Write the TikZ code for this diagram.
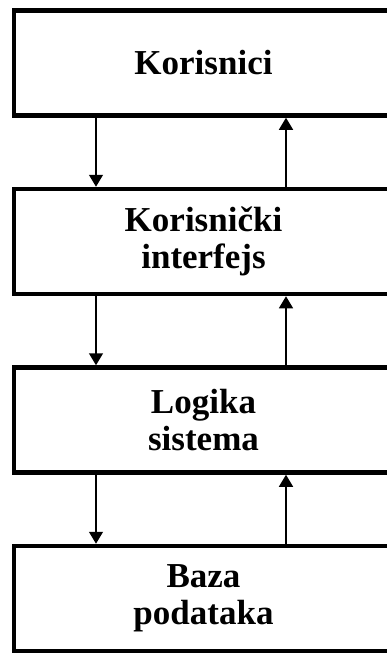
\documentclass[tikz,border=0pt]{standalone}
\usepackage{fontspec}
\setmainfont{Liberation Serif}
\usetikzlibrary{arrows.meta,positioning}

\begin{document}
\begin{tikzpicture}[
    x=1pt, y=1pt,
    node distance=69pt,
    layer/.style={draw, rectangle, minimum width=379pt, minimum height=105pt, line width=4.5pt, align=center, font=\fontsize{35}{37}\selectfont\bfseries},
    arrow/.style={-{Triangle[width=14pt,length=12pt]}, line width=1.5pt}
]
    \clip (0,0) rectangle (387,-654);
    \node[layer] (users) at (203.5,-63) {Korisnici};
    \node[layer] (ui) [below=of users] {Korisnički\\interfejs};
    \node[layer] (logic) [below=of ui] {Logika\\sistema};
    \node[layer] (db) [below=of logic] {Baza\\podataka};

    \draw[arrow] ([xshift=-107.5pt]users.south) -- ([xshift=-107.5pt]ui.north);
    \draw[arrow] ([xshift=82.5pt]ui.north) -- ([xshift=82.5pt]users.south);
    \draw[arrow] ([xshift=-107.5pt]ui.south) -- ([xshift=-107.5pt]logic.north);
    \draw[arrow] ([xshift=82.5pt]logic.north) -- ([xshift=82.5pt]ui.south);
    \draw[arrow] ([xshift=-107.5pt]logic.south) -- ([xshift=-107.5pt]db.north);
    \draw[arrow] ([xshift=82.5pt]db.north) -- ([xshift=82.5pt]logic.south);
\end{tikzpicture}
\end{document}
